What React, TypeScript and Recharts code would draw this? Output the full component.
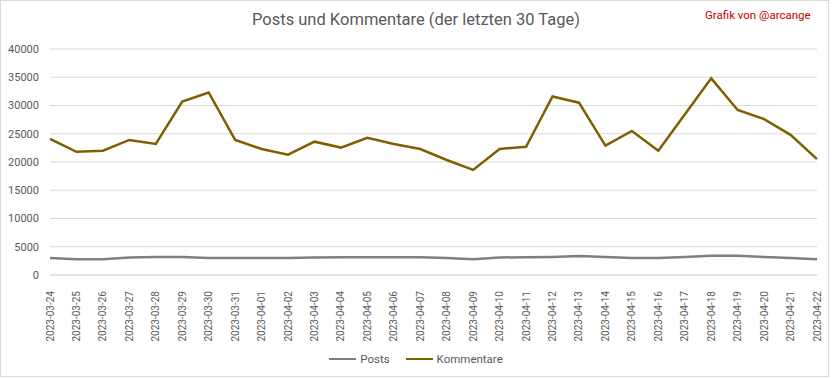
import React from 'react';
import { LineChart, Line, XAxis, YAxis, CartesianGrid } from 'recharts';

const dates = [
  '2023-03-24', '2023-03-25', '2023-03-26', '2023-03-27', '2023-03-28', '2023-03-29', '2023-03-30',
  '2023-03-31', '2023-04-01', '2023-04-02', '2023-04-03', '2023-04-04', '2023-04-05', '2023-04-06',
  '2023-04-07', '2023-04-08', '2023-04-09', '2023-04-10', '2023-04-11', '2023-04-12', '2023-04-13',
  '2023-04-14', '2023-04-15', '2023-04-16', '2023-04-17', '2023-04-18', '2023-04-19', '2023-04-20',
  '2023-04-21', '2023-04-22',
];

const posts = [
  3000, 2800, 2800, 3100, 3200, 3200, 3000, 3000, 3000, 3000, 3100, 3150, 3150, 3150, 3150,
  3000, 2800, 3100, 3150, 3200, 3350, 3200, 3000, 3000, 3200, 3400, 3400, 3200, 3000, 2800,
];

const kommentare = [
  24100, 21800, 22000, 23900, 23200, 30700, 32300, 23900, 22300, 21300, 23600, 22550, 24300, 23200, 22300,
  20350, 18600, 22300, 22700, 31600, 30500, 22900, 25500, 22000, 28400, 34800, 29200, 27600, 24800, 20500,
];

const yTicks = [0, 5000, 10000, 15000, 20000, 25000, 30000, 35000, 40000];

const title = 'Posts und Kommentare (der letzten 30 Tage)';
const credit = 'Grafik von @arcange';

const data = dates.map((d, i) => ({ date: d, Posts: posts[i], Kommentare: kommentare[i] }));

const FONT = 'Roboto, "Noto Sans", sans-serif';
const TEXT = '#595959';

const XTick = (props: any) => {
  const { x, y, payload } = props;
  return (
    <g transform={`translate(${x},${y + 8})`}>
      <text transform="rotate(-90)" textAnchor="end" dy="0.35em" fill={TEXT} fontSize={10} fontFamily={FONT}>
        {payload.value}
      </text>
    </g>
  );
};

export default function App() {
  return (
    <div style={{ position: 'absolute', left: 0, top: 0, width: 832, height: 378, background: '#fff' }}>
      <div style={{ position: 'absolute', left: 0, top: 0, width: 829, height: 377, border: '1px solid #d9d9d9', boxSizing: 'border-box' }} />
      <div style={{ position: 'absolute', left: 0, top: 10, width: 832, textAlign: 'center', fontFamily: FONT, fontSize: 16.5, color: TEXT, whiteSpace: 'nowrap' }}>
        {title}
      </div>
      <div style={{ position: 'absolute', left: 705, top: 8, fontFamily: FONT, fontSize: 11.5, color: '#c00000', whiteSpace: 'nowrap' }}>
        {credit}
      </div>
      <LineChart width={832} height={378} data={data} margin={{ top: 49, right: 15, bottom: 33, left: 0 }}>
        <CartesianGrid vertical={false} stroke="#d9d9d9" />
        <XAxis
          dataKey="date"
          interval={0}
          tick={<XTick />}
          tickLine={false}
          axisLine={{ stroke: '#d9d9d9' }}
          height={70}
        />
        <YAxis
          domain={[0, 40000]}
          ticks={yTicks}
          width={50}
          tickSize={0}
          tickMargin={11}
          axisLine={false}
          tickLine={false}
          tick={{ fill: TEXT, fontSize: 11, fontFamily: FONT }}
        />
        <Line dataKey="Posts" stroke="#7f7f7f" strokeWidth={2.5} dot={false} isAnimationActive={false} />
        <Line dataKey="Kommentare" stroke="#7f6000" strokeWidth={2.5} dot={false} isAnimationActive={false} />
      </LineChart>
      <div style={{ position: 'absolute', top: 352, left: 0, width: 832, display: 'flex', justifyContent: 'center', alignItems: 'center', fontFamily: FONT, fontSize: 11.5, color: TEXT }}>
        <div style={{ display: 'flex', alignItems: 'center', marginRight: 16 }}>
          <div style={{ width: 27, height: 2.5, background: '#7f7f7f', marginRight: 4 }} />
          <span>Posts</span>
        </div>
        <div style={{ display: 'flex', alignItems: 'center' }}>
          <div style={{ width: 27, height: 2.5, background: '#7f6000', marginRight: 4 }} />
          <span>Kommentare</span>
        </div>
      </div>
    </div>
  );
}
